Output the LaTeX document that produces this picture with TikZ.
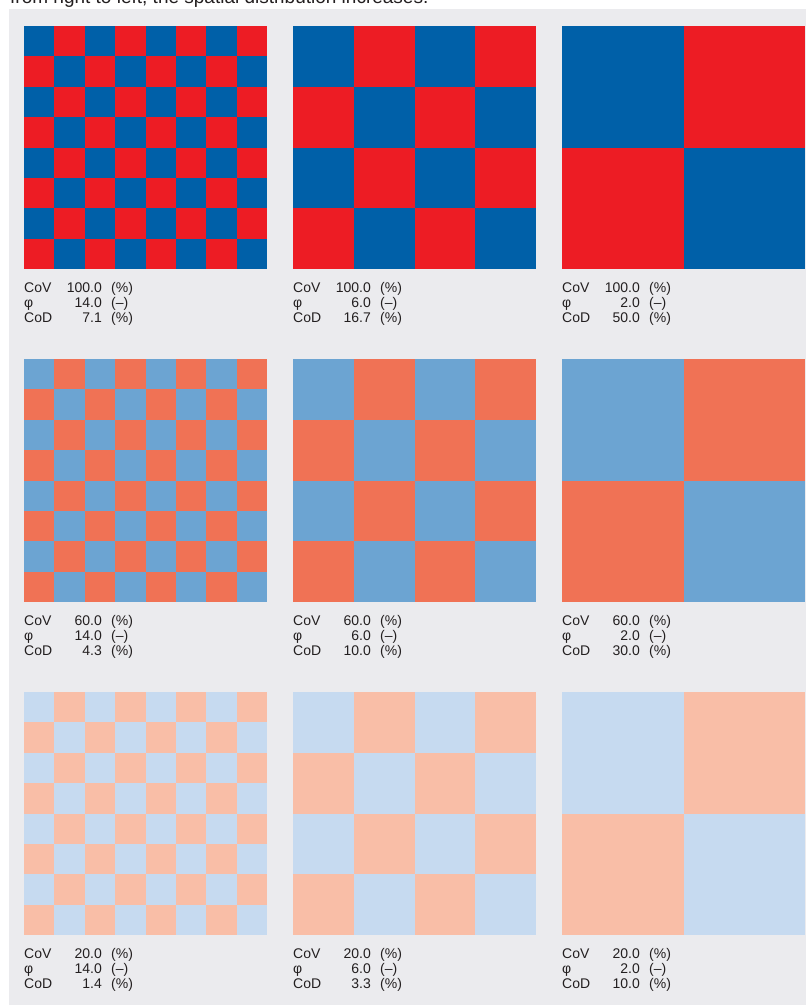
\documentclass[tikz,border=0pt]{standalone}
\usepackage{fontspec}
\setmainfont{Liberation Sans}
\definecolor{panelgray}{RGB}{235,235,238}
\definecolor{textgray}{RGB}{35,31,32}
\definecolor{bluedark}{RGB}{0,96,168}
\definecolor{reddark}{RGB}{237,28,36}
\definecolor{bluemid}{RGB}{108,164,210}
\definecolor{redmid}{RGB}{240,114,85}
\definecolor{bluelight}{RGB}{198,218,240}
\definecolor{redlight}{RGB}{249,190,167}
\begin{document}
\begin{tikzpicture}[x=1pt, y=-1pt,
    txt/.style={inner sep=0pt, text=textgray, font=\fontsize{14}{15}\selectfont},
    lbl/.style={txt, anchor=base west},
    val/.style={txt, anchor=base east}
]
\useasboundingbox (0,0) rectangle (806,1005);

% Caption, cut off at the top
\node[lbl, font=\fontsize{19}{21}\selectfont] (caption) at (10,3) {from right to left, the spatial distribution increases.};

% Panel
\fill[panelgray] (9,9) rectangle (806,1005);

% Checkerboards: rows = CoV, columns = number of cells
\foreach \row/\cb/\cr/\cov/\codA/\codB/\codC in {
    0/bluedark/reddark/100.0/7.1/16.7/50.0,
    1/bluemid/redmid/60.0/4.3/10.0/30.0,
    2/bluelight/redlight/20.0/1.4/3.3/10.0} {
  \foreach \col/\n/\phival/\cod in {0/8/14.0/\codA, 1/4/6.0/\codB, 2/2/2.0/\codC} {
    \pgfmathsetmacro\x{24+269*\col}
    \pgfmathsetmacro\y{26+333*\row}
    \pgfmathsetmacro\w{243/\n}
    \pgfmathtruncatemacro\m{\n-1}
    \fill[\cr] (\x,\y) rectangle ++(243,243);
    \foreach \i in {0,...,\m} {
      \foreach \j in {0,...,\m} {
        \pgfmathtruncatemacro\odd{mod(\i+\j,2)}
        \ifnum\odd=0
          \fill[\cb] (\x+\i*\w,\y+\j*\w) rectangle ++(\w,\w);
        \fi
      }
    }
    % Values
    \node[lbl] (cov\row\col) at (\x,\y+266) {CoV};
    \node[lbl] (phi\row\col) at (\x,\y+281) {φ};
    \node[lbl] (cod\row\col) at (\x,\y+296) {CoD};
    \node[val] (covv\row\col) at (\x+78,\y+266) {\cov};
    \node[val] (phiv\row\col) at (\x+78,\y+281) {\phival};
    \node[val] (codv\row\col) at (\x+78,\y+296) {\cod};
    \node[lbl] (covu\row\col) at (\x+87,\y+266) {(\%)};
    \node[lbl] (phiu\row\col) at (\x+87,\y+281) {(–)};
    \node[lbl] (codu\row\col) at (\x+87,\y+296) {(\%)};
  }
}
\end{tikzpicture}
\end{document}
